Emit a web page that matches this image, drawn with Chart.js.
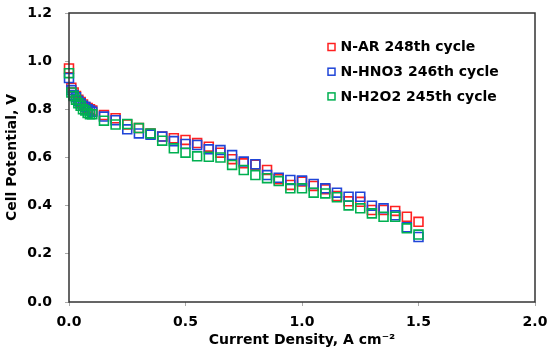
<!DOCTYPE html>
<html>
<head>
<meta charset="utf-8">
<script src="https://cdn.jsdelivr.net/npm/chart.js@4"></script>
<style>
  html, body { margin: 0; padding: 0; background: #fff; }
  #wrap { width: 550px; height: 354px; position: relative; }
</style>
</head>
<body>
<div id="wrap"><canvas id="chart"></canvas></div>
<script>
// current density, A cm-2 (shared by all three runs)
const currentDensity = [0, 0.01, 0.02, 0.03, 0.04, 0.05, 0.06, 0.07, 0.08, 0.09, 0.10,
    0.15, 0.20, 0.25, 0.30, 0.35, 0.40, 0.45, 0.50, 0.55, 0.60, 0.65, 0.70, 0.75, 0.80,
    0.85, 0.90, 0.95, 1.00, 1.05, 1.10, 1.15, 1.20, 1.25, 1.30, 1.35, 1.40, 1.45, 1.50];

// cell potential, V
const nAR = [0.97, 0.89, 0.87, 0.855, 0.84, 0.83, 0.82, 0.81, 0.805, 0.80, 0.795,
    0.776, 0.763, 0.737, 0.722, 0.70, 0.687, 0.68, 0.673, 0.66, 0.645, 0.62, 0.593, 0.576, 0.57,
    0.548, 0.51, 0.486, 0.50, 0.482, 0.468, 0.44, 0.418, 0.416, 0.382, 0.382, 0.378, 0.354, 0.333];
const nHNO3 = [0.93, 0.88, 0.86, 0.85, 0.835, 0.825, 0.815, 0.81, 0.80, 0.795, 0.79,
    0.77, 0.755, 0.717, 0.70, 0.695, 0.687, 0.668, 0.656, 0.652, 0.634, 0.631, 0.61, 0.583, 0.572,
    0.527, 0.516, 0.507, 0.504, 0.49, 0.472, 0.454, 0.437, 0.437, 0.40, 0.389, 0.36, 0.31, 0.27];
const nH2O2 = [0.95, 0.87, 0.855, 0.84, 0.825, 0.815, 0.80, 0.795, 0.785, 0.78, 0.78,
    0.753, 0.737, 0.739, 0.722, 0.70, 0.67, 0.638, 0.62, 0.605, 0.603, 0.60, 0.569, 0.548, 0.527,
    0.514, 0.502, 0.472, 0.472, 0.454, 0.451, 0.435, 0.401, 0.389, 0.368, 0.354, 0.354, 0.306, 0.28];

const seriesNames = ["N-AR 248th cycle", "N-HNO3 246th cycle", "N-H2O2 245th cycle"];
const seriesColors = ["#ff2020", "#1f45d8", "#00b050"];

const xTicks = [0, 0.5, 1.0, 1.5, 2.0];
const yTicks = [0, 0.2, 0.4, 0.6, 0.8, 1.0, 1.2];

const FONT = "'DejaVu Sans', Verdana, sans-serif";

function pts(ys) {
    return currentDensity.map(function (x, i) { return { x: x, y: ys[i] }; });
}

// box around the plot + legend inside top right
const framePlugin = {
    id: "frame",
    afterDraw: function (chart) {
        const ctx = chart.ctx;
        const a = chart.chartArea;
        ctx.save();
        ctx.strokeStyle = "#333";
        ctx.lineWidth = 1.5;
        ctx.strokeRect(a.left, a.top, a.right - a.left, a.bottom - a.top);

        ctx.font = "bold 14px " + FONT;
        ctx.textBaseline = "middle";
        ctx.textAlign = "left";
        for (let i = 0; i < seriesNames.length; i++) {
            const cx = a.right - 203.5;
            const cy = a.top + 34 + i * 24.7;
            ctx.strokeStyle = seriesColors[i];
            ctx.lineWidth = 1.5;
            ctx.strokeRect(cx - 3.5, cy - 3.5, 7, 7);
            ctx.fillStyle = "#000";
            ctx.fillText(seriesNames[i], cx + 9, cy + 0.5);
        }
        ctx.restore();
    }
};

const ctx = document.getElementById("chart").getContext("2d");
new Chart(ctx, {
    type: "scatter",
    data: {
        datasets: [
            { label: seriesNames[0], data: pts(nAR), borderColor: seriesColors[0], order: 2 },
            { label: seriesNames[1], data: pts(nHNO3), borderColor: seriesColors[1], order: 1 },
            { label: seriesNames[2], data: pts(nH2O2), borderColor: seriesColors[2], order: 0 }
        ].map(function (d) {
            return Object.assign(d, {
                backgroundColor: "rgba(0,0,0,0)",
                pointStyle: "rect",
                pointRadius: 6.3,
                pointHoverRadius: 6.3,
                borderWidth: 1.6,
                clip: false
            });
        })
    },
    options: {
        responsive: true,
        maintainAspectRatio: false,
        animation: false,
        events: [],
        layout: { padding: { top: 13, right: 15, left: 0, bottom: 0 } },
        plugins: {
            legend: { display: false },
            tooltip: { enabled: false }
        },
        scales: {
            x: {
                type: "linear",
                min: 0,
                max: 2,
                afterBuildTicks: function (s) { s.ticks = xTicks.map(function (v) { return { value: v }; }); },
                afterFit: function (s) { s.height = 52; s.paddingLeft = 0; s.paddingRight = 0; },
                grid: { drawOnChartArea: false, drawTicks: true, tickLength: 4, color: "#aaa" },
                border: { display: false },
                ticks: {
                    color: "#000",
                    padding: 8,
                    maxRotation: 0,
                    font: { family: FONT, size: 14, weight: "bold" },
                    callback: function (v) { return v.toFixed(1); }
                },
                title: {
                    display: true,
                    text: "Current Density, A cm\u207B\u00B2",
                    color: "#000",
                    font: { family: FONT, size: 14, weight: "bold" },
                    padding: { top: 0, bottom: 5 }
                }
            },
            y: {
                type: "linear",
                min: 0,
                max: 1.2,
                afterBuildTicks: function (s) { s.ticks = yTicks.map(function (v) { return { value: v }; }); },
                afterFit: function (s) { s.width = 69; s.paddingTop = 0; s.paddingBottom = 0; },
                grid: { drawOnChartArea: false, drawTicks: true, tickLength: 4, color: "#aaa" },
                border: { display: false },
                ticks: {
                    color: "#000",
                    padding: 13,
                    font: { family: FONT, size: 14, weight: "bold" },
                    callback: function (v) { return v.toFixed(1); }
                },
                title: {
                    display: true,
                    text: "Cell Potential, V",
                    color: "#000",
                    font: { family: FONT, size: 14, weight: "bold" },
                    padding: { top: 4, bottom: 0 }
                }
            }
        }
    },
    plugins: [framePlugin]
});
</script>
</body>
</html>
